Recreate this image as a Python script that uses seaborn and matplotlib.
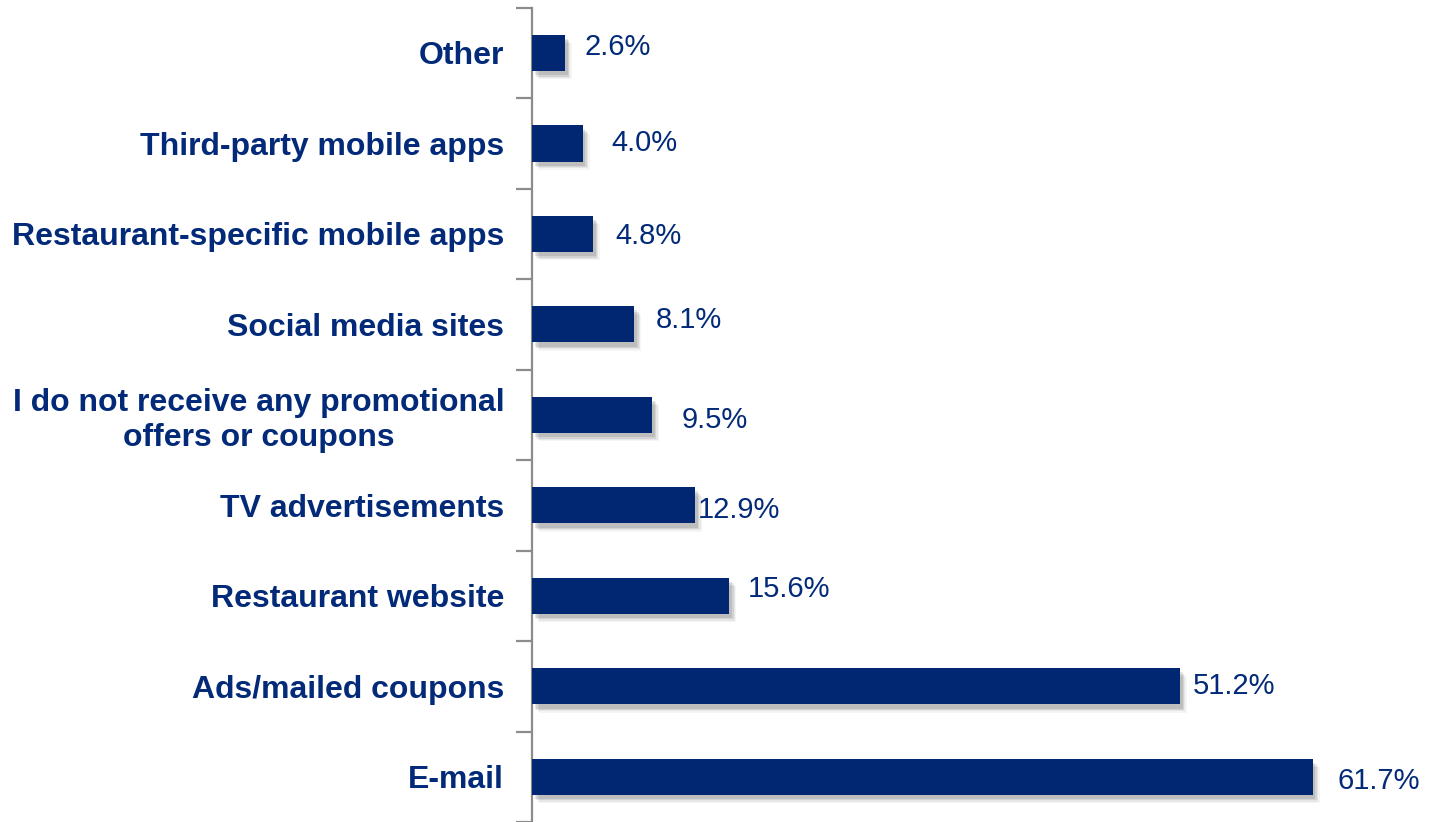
import matplotlib
matplotlib.use("Agg")
import matplotlib.pyplot as plt
import matplotlib.patheffects as pe
from matplotlib.ticker import FixedLocator
import pandas as pd
import seaborn as sns

# Where diners receive restaurant promotional offers / coupons
channels = [
    "Other",
    "Third-party mobile apps",
    "Restaurant-specific mobile apps",
    "Social media sites",
    "I do not receive any promotional\noffers or coupons",
    "TV advertisements",
    "Restaurant website",
    "Ads/mailed coupons",
    "E-mail",
]
shares = [2.6, 4.0, 4.8, 8.1, 9.5, 12.9, 15.6, 51.2, 61.7]

# Per-label nudges (points) for the value annotations
label_dx = [14, 21, 16, 15, 21, 1.5, 13, 9, 18]
label_dy = [4, 0, -1.5, 3, -3.5, -3.5, 5, 0, -3]

NAVY = "#012773"
TEXT = "#022a78"
GREY = "#8c8c8c"

sns.set_theme(style="white")
plt.rcParams["font.family"] = ["Liberation Sans", "DejaVu Sans"]

df = pd.DataFrame({"channel": channels, "share": shares})

fig = plt.figure(figsize=(14.32, 8.22), dpi=100)
ax = fig.add_axes([532 / 1432, 0.0, 1 - 532 / 1432 - 0.01, 1 - 7.7 / 822])

sns.barplot(data=df, y="channel", x="share", orient="h", color=NAVY,
            saturation=1, width=0.4, ax=ax, zorder=3)

# Soft drop shadow under each bar (layered for a blurred edge)
shadow = [
    pe.SimplePatchShadow(offset=(5, -6), shadow_rgbFace="#000000", alpha=0.04),
    pe.SimplePatchShadow(offset=(4, -5), shadow_rgbFace="#000000", alpha=0.06),
    pe.SimplePatchShadow(offset=(3, -4), shadow_rgbFace="#000000", alpha=0.08),
    pe.SimplePatchShadow(offset=(2, -3), shadow_rgbFace="#000000", alpha=0.10),
    pe.Normal(),
]
for bar in ax.patches:
    bar.set_path_effects(shadow)
    bar.set_edgecolor("none")

ax.set_xlim(0, 70)
ax.set_ylim(len(channels) - 0.5, -0.5)

# Value labels
for i, (v, dx, dy) in enumerate(zip(shares, label_dx, label_dy)):
    ax.annotate(f"{v:.1f}%", xy=(v, i), xytext=(dx, dy),
                textcoords="offset points", ha="left", va="center",
                fontsize=21, color=TEXT)

# Axes styling: only the left spine, ticks between categories
for side in ("top", "right", "bottom"):
    ax.spines[side].set_visible(False)
ax.spines["left"].set_color(GREY)
ax.spines["left"].set_linewidth(1.6)
ax.set_xticks([])
ax.set_xlabel("")
ax.set_ylabel("")

ax.yaxis.set_minor_locator(FixedLocator([k - 0.5 for k in range(len(channels) + 1)]))
ax.tick_params(axis="y", which="major", length=0, pad=20)
ax.tick_params(axis="y", which="minor", length=11.5, width=1.6, color=GREY,
               direction="out", left=True)
for lbl in ax.get_yticklabels():
    lbl.set_fontsize(23)
    lbl.set_fontweight("bold")
    lbl.set_color(TEXT)
    lbl.set_multialignment("center")
    lbl.set_linespacing(1.22)

fig.savefig("out.png", dpi=100, facecolor="white")
